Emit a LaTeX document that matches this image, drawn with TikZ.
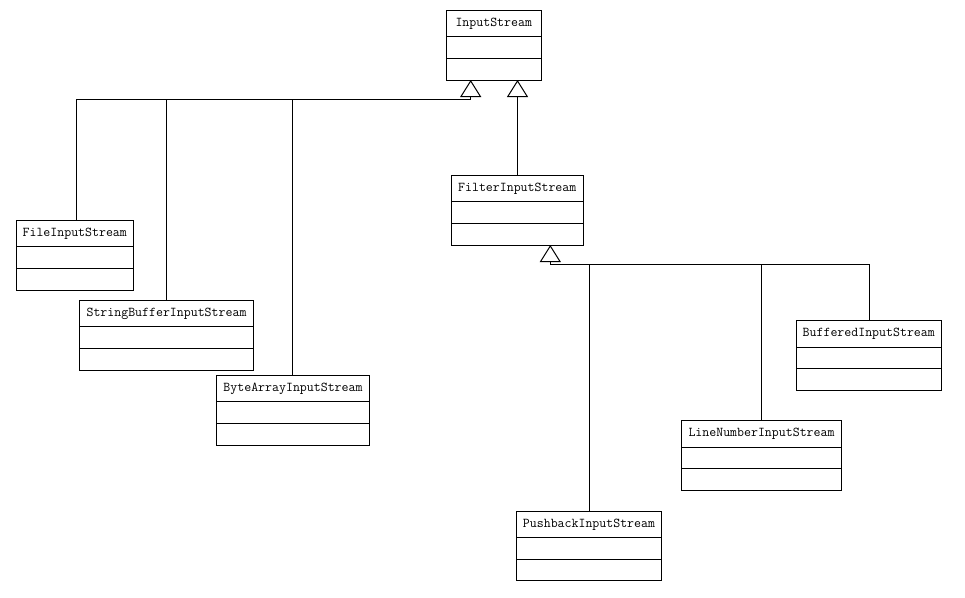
\documentclass[tikz,border=0pt]{standalone}
\usetikzlibrary{calc,arrows.meta}
\tikzset{
  clsbox/.style={draw, line width=1pt, inner sep=0pt, outer sep=0pt, fill=white},
  clstext/.style={inner sep=0pt, font=\fontsize{13.5}{15}\ttfamily},
  link/.style={line width=1pt},
  inherit/.style={line width=1pt, -{Triangle[open, length=17pt, width=21pt, line width=1pt]}}
}
\newcommand\umlclass[6]{%
  \node[clsbox, minimum width={#4-#2}, minimum height={#5-#3}, anchor=north west] (#1) at (#2,#3) {};
  \draw[line width=1pt] ($(#1.north west)+(0,26.5)$) -- ($(#1.north east)+(0,26.5)$);
  \draw[line width=1pt] ($(#1.north west)+(0,48.3)$) -- ($(#1.north east)+(0,48.3)$);
  \node[clstext, anchor=center] (#1-t) at ($(#1.north)+(0,13.5)$) {#6};
}
\begin{document}
\begin{tikzpicture}[x=1pt,y=-1pt]
\useasboundingbox[fill=white] (0,0) rectangle (965,597);
\umlclass{is}{446}{10}{541.5}{80}{InputStream}
\umlclass{fis}{451.5}{175}{583}{245}{FilterInputStream}
\umlclass{file}{16.5}{220}{133}{290}{FileInputStream}
\umlclass{sb}{79.5}{300}{253.5}{370}{StringBufferInputStream}
\umlclass{ba}{216.5}{375}{369.5}{445}{ByteArrayInputStream}
\umlclass{pb}{516.5}{511}{661.5}{580}{PushbackInputStream}
\umlclass{ln}{681.5}{420.5}{841.5}{490}{LineNumberInputStream}
\umlclass{bf}{796}{320.5}{941.5}{390}{BufferedInputStream}
% junctions
\coordinate (j1) at (470.7,99);
\coordinate (j2) at (550.3,264.3);
% InputStream subclasses
\draw[inherit] (j1) -- (is.south -| j1);
\draw[link] (j1) -- (76,99) coordinate (jf) -- (file.north -| jf);
\draw[link] (166.5,99) coordinate (js) -- (sb.north -| js);
\draw[link] (292.5,99) coordinate (jb) -- (ba.north -| jb);
\coordinate (jfi) at (517.5,175);
\draw[inherit] (jfi) -- (is.south -| jfi);
% FilterInputStream subclasses
\draw[inherit] (j2) -- (fis.south -| j2);
\draw[link] (j2) -- (869.3,264.3) coordinate (jbf) -- (bf.north -| jbf);
\draw[link] (589.3,264.3) coordinate (jpb) -- (pb.north -| jpb);
\draw[link] (761.5,264.3) coordinate (jln) -- (ln.north -| jln);
\end{tikzpicture}
\end{document}
